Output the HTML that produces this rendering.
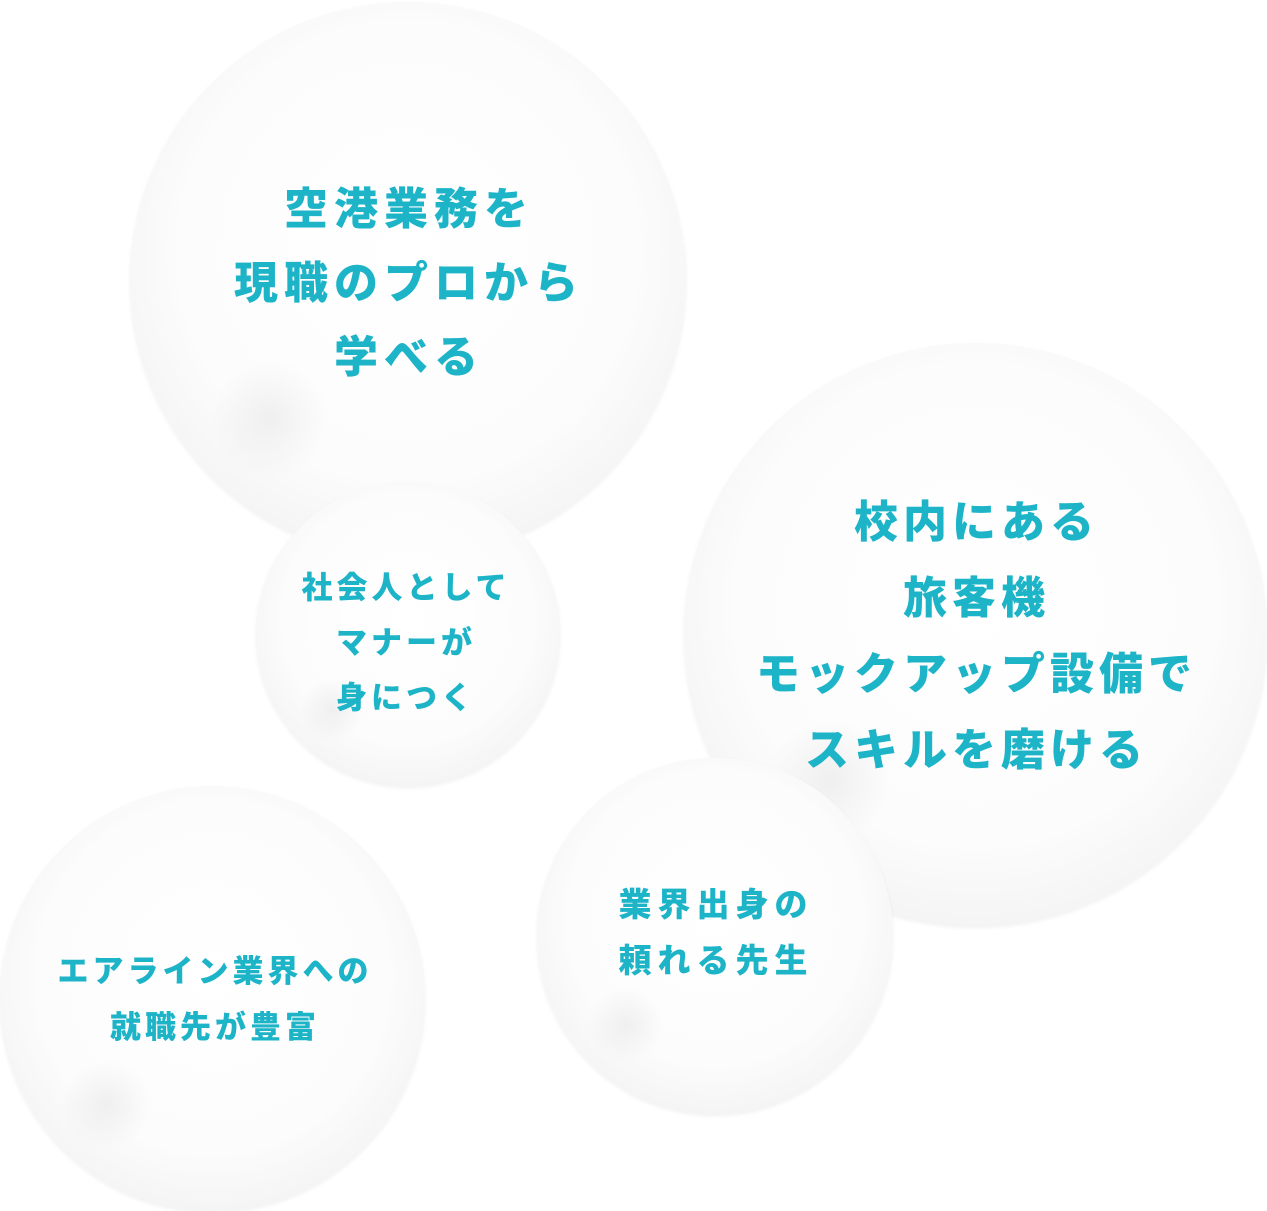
<!DOCTYPE html>
<html><head><meta charset="utf-8"><style>
html,body{margin:0;padding:0;background:#fff;}
body{width:1267px;height:1211px;position:relative;overflow:hidden;font-family:"Liberation Sans","Noto Sans CJK JP",sans-serif;}
.c{position:absolute;border-radius:50%;
background:radial-gradient(circle at 25% 75%, rgba(200,200,200,0.25) 0%, rgba(220,220,220,0) 10%),radial-gradient(circle at 50% 45%, #ffffff 0%, #fcfcfc 55%, #f0f0f0 85%, #e2e2e2 100%);
box-shadow:0 2px 4px rgba(0,0,0,0.06);}
.t{position:absolute;color:#1db4c8;font-weight:900;text-align:center;white-space:nowrap;transform:translate(-50%,-50%);}
</style></head><body>
<div class="c" style="left:130px;top:2px;width:556px;height:556px"></div>
<div class="c" style="left:256px;top:482px;width:304px;height:304px"></div>
<div class="c" style="left:684px;top:343px;width:583px;height:583px"></div>
<div class="c" style="left:0px;top:786px;width:425px;height:425px"></div>
<div class="c" style="left:537px;top:758px;width:356px;height:356px"></div>

<div class="t" style="left:406px;top:284px;font-size:44px;line-height:74px;letter-spacing:6px;padding-left:6px">空港業務を<br>現職のプロから<br>学べる</div>
<div class="t" style="left:404px;top:643px;font-size:31px;line-height:55px;letter-spacing:4px;padding-left:4px">社会人として<br>マナーが<br>身につく</div>
<div class="t" style="left:974px;top:637px;font-size:44px;line-height:76px;letter-spacing:5px;padding-left:5px">校内にある<br>旅客機<br>モックアップ設備で<br>スキルを磨ける</div>
<div class="t" style="left:213px;top:1000px;font-size:31px;line-height:56px;letter-spacing:4px;padding-left:4px">エアライン業界への<br>就職先が豊富</div>
<div class="t" style="left:713px;top:933px;font-size:33px;line-height:56px;letter-spacing:6px;padding-left:6px">業界出身の<br>頼れる先生</div>
</body></html>
